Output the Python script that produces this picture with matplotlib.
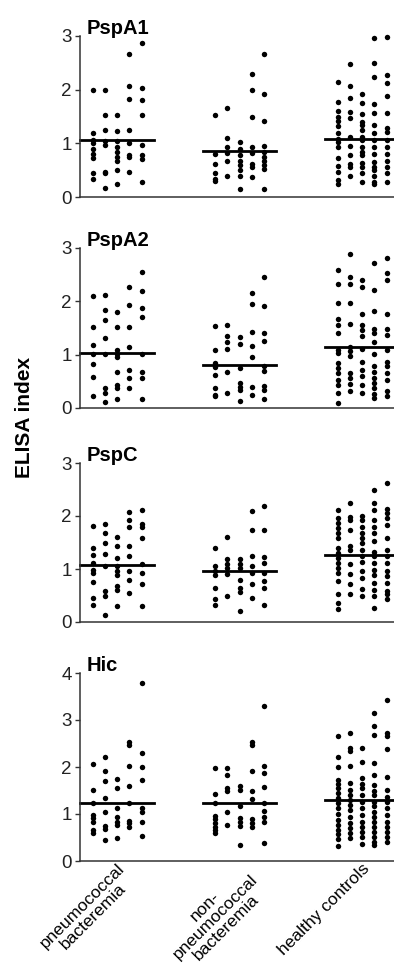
import matplotlib
matplotlib.use("Agg")
import matplotlib.pyplot as plt
import numpy as np

plt.rcParams['font.family'] = ['Liberation Sans', 'DejaVu Sans']

groups = ["pneumococcal\nbacteremia", "non-\npneumococcal\nbacteremia", "healthy controls"]

# values read column by column (5 dot columns per group)
pspa1_pneumo = [[1.99, 1.19, 1.06, 1.0, 0.90, 0.81, 0.73, 0.44, 0.34],
                [2.0, 1.53, 1.24, 1.05, 0.96, 0.46, 0.44, 0.17],
                [1.52, 1.23, 1.04, 0.93, 0.84, 0.75, 0.67, 0.50, 0.25],
                [2.66, 2.07, 1.82, 1.24, 1.0, 0.78, 0.74, 0.46],
                [2.87, 2.03, 1.80, 1.52, 0.96, 0.78, 0.70, 0.28]]
pspa1_nonpneumo = [[1.52, 0.81, 0.62, 0.45, 0.34, 0.30],
                   [1.65, 1.10, 0.93, 0.82, 0.67, 0.40],
                   [1.02, 0.90, 0.78, 0.68, 0.59, 0.50, 0.40, 0.14],
                   [2.29, 2.0, 1.50, 0.93, 0.82, 0.62, 0.56, 0.37],
                   [2.66, 1.91, 1.42, 0.95, 0.84, 0.75, 0.68, 0.60, 0.52, 0.15]]
pspa1_healthy = [[2.15, 1.77, 1.60, 1.50, 1.42, 1.32, 1.20, 1.09, 1.02, 0.93, 0.72, 0.57, 0.47, 0.31, 0.25],
                 [2.48, 2.07, 1.85, 1.59, 1.47, 1.12, 0.95, 0.78, 0.62, 0.56, 0.39],
                 [1.92, 1.75, 1.54, 1.40, 1.34, 1.24, 1.12, 1.06, 0.93, 0.84, 0.78, 0.64, 0.56, 0.44, 0.28],
                 [2.97, 2.50, 2.23, 1.73, 1.56, 1.34, 1.20, 1.06, 0.93, 0.80, 0.66, 0.56, 0.50, 0.40, 0.28, 0.24],
                 [2.98, 2.28, 2.13, 1.89, 1.56, 1.29, 1.22, 1.06, 0.93, 0.81, 0.68, 0.56, 0.44, 0.28]]
pspa1_medians = [1.06, 0.86, 1.09]

pspa2_pneumo = [[2.10, 1.51, 1.18, 1.01, 0.83, 0.59, 0.23],
                [2.11, 1.84, 1.65, 1.32, 1.01, 0.37, 0.28, 0.11],
                [1.80, 1.51, 1.09, 1.02, 0.96, 0.67, 0.44, 0.37, 0.17],
                [2.26, 1.93, 1.52, 1.14, 0.72, 0.56, 0.37],
                [2.55, 2.19, 1.88, 1.71, 1.01, 0.68, 0.56, 0.17]]
pspa2_nonpneumo = [[1.54, 1.09, 0.84, 0.77, 0.62, 0.37, 0.25, 0.22],
                   [1.56, 1.35, 1.24, 1.10, 0.67, 0.29],
                   [1.34, 1.20, 0.75, 0.47, 0.40, 0.33, 0.14],
                   [2.16, 1.95, 1.43, 1.16, 0.96, 0.40, 0.25],
                   [2.45, 1.91, 1.40, 1.26, 0.78, 0.70, 0.42, 0.34, 0.17]]
pspa2_healthy = [[2.59, 2.32, 1.96, 1.66, 1.56, 1.41, 1.09, 1.03, 0.84, 0.75, 0.65, 0.53, 0.44, 0.29, 0.09],
                 [2.88, 2.46, 2.32, 1.97, 1.57, 1.15, 1.06, 0.98, 0.65, 0.56, 0.45, 0.31],
                 [2.40, 2.26, 1.76, 1.56, 1.46, 1.35, 1.10, 0.87, 0.72, 0.60, 0.44, 0.28],
                 [2.72, 2.21, 1.82, 1.49, 1.41, 1.24, 1.01, 0.78, 0.67, 0.56, 0.47, 0.37, 0.27, 0.19],
                 [2.82, 2.53, 2.40, 1.76, 1.49, 1.37, 1.09, 0.87, 0.78, 0.65, 0.53, 0.31, 0.22]]
pspa2_medians = [1.04, 0.80, 1.15]

pspc_pneumo = [[1.81, 1.39, 1.27, 1.11, 0.99, 0.93, 0.76, 0.46, 0.33],
               [1.85, 1.68, 1.49, 1.29, 1.05, 0.58, 0.50, 0.14],
               [1.60, 1.43, 1.21, 1.06, 0.96, 0.89, 0.68, 0.60, 0.30],
               [2.08, 1.93, 1.79, 1.43, 1.24, 0.96, 0.79, 0.55],
               [2.11, 1.85, 1.79, 1.58, 1.10, 0.93, 0.71, 0.31]]
pspc_nonpneumo = [[1.39, 1.05, 0.96, 0.89, 0.64, 0.43, 0.33],
                  [1.61, 1.18, 1.10, 1.02, 0.91, 0.49],
                  [1.18, 1.10, 1.02, 0.80, 0.64, 0.56, 0.21],
                  [2.10, 1.74, 1.24, 1.05, 0.93, 0.71, 0.46],
                  [2.19, 1.73, 1.23, 1.11, 0.93, 0.77, 0.64, 0.33]]
pspc_healthy = [[2.11, 1.96, 1.86, 1.77, 1.68, 1.58, 1.39, 1.30, 1.21, 1.11, 1.02, 0.93, 0.77, 0.52, 0.36, 0.24],
                [2.24, 1.99, 1.93, 1.74, 1.43, 1.36, 1.10, 0.91, 0.71, 0.52],
                [2.0, 1.93, 1.80, 1.68, 1.58, 1.49, 1.36, 1.24, 1.14, 0.96, 0.83, 0.63, 0.49],
                [2.49, 2.25, 2.11, 1.93, 1.80, 1.68, 1.52, 1.33, 1.24, 1.11, 0.99, 0.89, 0.74, 0.61, 0.49, 0.27],
                [2.63, 2.14, 2.05, 1.96, 1.83, 1.58, 1.36, 1.24, 1.11, 0.96, 0.86, 0.74, 0.58, 0.52, 0.44]]
pspc_medians = [1.08, 0.96, 1.27]

hic_pneumo = [[2.06, 1.51, 1.23, 0.98, 0.91, 0.82, 0.65, 0.60],
              [2.21, 1.91, 1.71, 1.33, 1.04, 0.75, 0.68, 0.45],
              [1.74, 1.55, 1.12, 0.93, 0.84, 0.77, 0.48],
              [2.54, 2.47, 2.02, 1.60, 1.23, 0.85, 0.80, 0.72],
              [3.78, 2.30, 2.01, 1.72, 1.12, 1.05, 0.82, 0.53]]
hic_nonpneumo = [[1.97, 1.43, 1.24, 0.96, 0.89, 0.80, 0.73, 0.66, 0.60],
                 [1.97, 1.84, 1.55, 1.50, 1.04, 0.77],
                 [1.60, 1.52, 1.16, 0.91, 0.84, 0.75, 0.33],
                 [2.54, 2.47, 1.91, 1.50, 1.31, 0.89, 0.80, 0.73],
                 [3.30, 2.02, 1.87, 1.57, 1.23, 1.06, 0.94, 0.84, 0.38]]
hic_healthy = [[2.66, 2.22, 2.01, 1.72, 1.64, 1.55, 1.44, 1.33, 1.24, 1.12, 1.01, 0.87, 0.77, 0.67, 0.57, 0.46, 0.32],
               [2.73, 2.41, 2.33, 2.03, 1.65, 1.52, 1.40, 1.30, 1.19, 1.09, 0.94, 0.80, 0.70, 0.59, 0.50],
               [2.40, 2.11, 1.76, 1.64, 1.55, 1.40, 1.26, 1.12, 0.98, 0.84, 0.73, 0.62, 0.52, 0.36],
               [3.14, 2.87, 2.68, 2.08, 1.83, 1.62, 1.50, 1.40, 1.26, 1.16, 1.05, 0.94, 0.84, 0.73, 0.62, 0.52, 0.40, 0.33],
               [3.43, 2.72, 2.66, 2.38, 1.79, 1.51, 1.37, 1.26, 1.12, 0.98, 0.84, 0.73, 0.62, 0.52, 0.40]]
hic_medians = [1.23, 1.24, 1.30]

panels = [("PspA1", [pspa1_pneumo, pspa1_nonpneumo, pspa1_healthy], pspa1_medians, 3),
          ("PspA2", [pspa2_pneumo, pspa2_nonpneumo, pspa2_healthy], pspa2_medians, 3),
          ("PspC", [pspc_pneumo, pspc_nonpneumo, pspc_healthy], pspc_medians, 3),
          ("Hic", [hic_pneumo, hic_nonpneumo, hic_healthy], hic_medians, 4)]

W, H = 394, 975
fig = plt.figure(figsize=(W / 100, H / 100), dpi=100)

# (top pixel, bottom pixel) of each panel's y range
rows = [(36, 197), (248, 408), (463, 622), (673, 861)]
left = 80

for (name, data, medians, ymax), (top, bot) in zip(panels, rows):
    ax = fig.add_axes([left / W, 1 - bot / H, 1 - left / W, (bot - top) / H])
    for g, cols in enumerate(data):
        for c, vals in enumerate(cols):
            x = np.full(len(vals), g + (c - 2) * 0.1)
            ax.plot(x, vals, 'o', color='black', markersize=3.9, mew=0, clip_on=False)
        ax.plot([g - 0.3, g + 0.3], [medians[g], medians[g]], color='black', lw=2.0, clip_on=False)
    ax.set_xlim(-0.302, 2.26)
    ax.set_ylim(0, ymax)
    ax.set_yticks(range(ymax + 1))
    ax.spines['top'].set_visible(False)
    ax.spines['right'].set_visible(False)
    for s in ['left', 'bottom']:
        ax.spines[s].set_linewidth(1.1)
        ax.spines[s].set_color('#333333')
    ax.tick_params(axis='y', direction='out', length=3.5, width=1.0, color='#333333', labelsize=13.5, pad=2.5, labelcolor='#222222')
    ax.tick_params(axis='x', length=0)
    ax.text(0.022, 1.01, name, transform=ax.transAxes, fontsize=14.5, fontweight='bold', va='baseline', ha='left')
    if name == "Hic":
        ax.set_xticks([0, 1, 2])
        ax.set_xticklabels(groups, rotation=45, ha='right', va='top', rotation_mode='anchor',
                           multialignment='center', fontsize=12.5, linespacing=1.0)
        ax.tick_params(axis='x', pad=0)
    else:
        ax.set_xticks([])

fig.text(0.062, 1 - 417 / H, "ELISA index", rotation=90, fontsize=15, fontweight='bold', ha='center', va='center')

fig.savefig("out.png", dpi=100)
